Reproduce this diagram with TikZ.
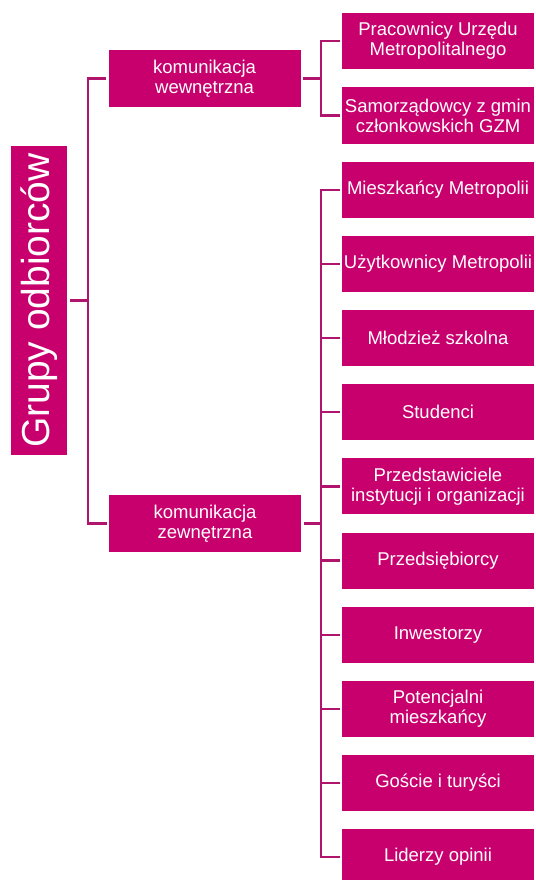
\documentclass[tikz,border=0pt]{standalone}
\usepackage{fontspec}
\setmainfont{Liberation Sans}
\definecolor{boxfill}{HTML}{C8006E}
\definecolor{linkcol}{HTML}{B0146C}
\begin{document}
\begin{tikzpicture}[x=1pt,y=-1pt,
  box/.style={fill=boxfill, draw=none, text=white, align=center, inner sep=0pt,
    outer sep=2.5pt, font=\fontsize{18.5}{20}\selectfont},
  leaf/.style={box, minimum width=192pt, minimum height=56pt},
  mid/.style={box, minimum width=192pt, minimum height=57pt},
  rootbox/.style={box, rotate=90, minimum width=309pt, minimum height=56pt,
    font=\fontsize{39}{42}\selectfont},
  link/.style={draw=linkcol, line width=2.2pt}]
\useasboundingbox (0,0) rectangle (535,880);
\clip (0,0) rectangle (535,880);

% root
\node[rootbox] (root) at (39,300.5) {Grupy odbiorców};

% second level
\node[mid] (inner) at (204.5,78.5) {komunikacja\\wewnętrzna};
\node[mid] (outer) at (205,523.5) {komunikacja\\zewnętrzna};

% leaves of the internal branch
\node[leaf] (i1) at (438,41) {Pracownicy Urzędu\\Metropolitalnego};
\node[leaf] (i2) at (438,115.5) {Samorządowcy z gmin\\członkowskich GZM};

% leaves of the external branch
\node[leaf] (e1)  at (438,190)   {Mieszkańcy Metropolii};
\node[leaf] (e2)  at (438,264.1) {Użytkownicy Metropolii};
\node[leaf] (e3)  at (438,338.2) {Młodzież szkolna};
\node[leaf] (e4)  at (438,412.3) {Studenci};
\node[leaf] (e5)  at (438,486.4) {Przedstawiciele\\instytucji i organizacji};
\node[leaf] (e6)  at (438,560.5) {Przedsiębiorcy};
\node[leaf] (e7)  at (438,634.6) {Inwestorzy};
\node[leaf] (e8)  at (438,708.7) {Potencjalni\\mieszkańcy};
\node[leaf] (e9)  at (438,782.8) {Goście i turyści};
\node[leaf] (e10) at (438,856.9) {Liderzy opinii};

% connector junctions
\coordinate (busroot) at (88,300.5);
\coordinate (businner) at (321,78.5);
\coordinate (busouter) at (321,523.5);

\draw[link] (root.south) -- (busroot);
\draw[link] (busroot) |- (inner.west);
\draw[link] (busroot) |- (outer.west);

\draw[link] (inner.east) -- (businner);
\draw[link] (businner) |- (i1.west);
\draw[link] (businner) |- (i2.west);

\draw[link] (outer.east) -- (busouter);
\foreach \n in {e1,e2,e3,e4,e5,e6,e7,e8,e9,e10}
  \draw[link] (busouter) |- (\n.west);
\end{tikzpicture}
\end{document}
